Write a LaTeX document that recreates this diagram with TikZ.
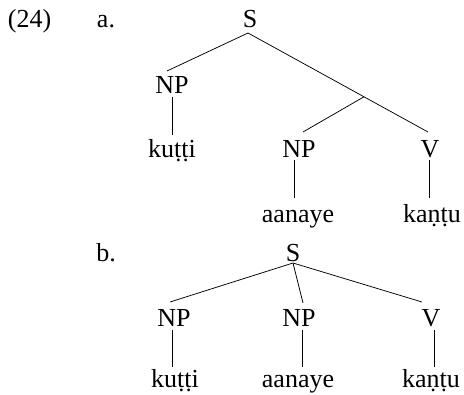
\documentclass[tikz,border=0pt]{standalone}
\usepackage{fontspec}
\setmainfont{Liberation Serif}
\begin{document}
\begin{tikzpicture}[x=1pt,y=-1pt,
  lbl/.style={anchor=base,inner sep=0pt,font=\fontsize{26}{31}\selectfont},
  edge/.style={line width=0.75pt,black}]
\useasboundingbox (0,0) rectangle (464,395);
% labels
\node[lbl] (num) at (29.5,28) {(24)};
\node[lbl] (la) at (106,28) {a.};
\node[lbl] (lb) at (106,262) {b.};
% tree a
\node[lbl] (Sa) at (250,28) {S};
\node[lbl] (NPa1) at (172,94) {NP};
\node[lbl] (kuA) at (172,158) {kuṭṭi};
\node[lbl] (NPa2) at (299,158) {NP};
\node[lbl] (Va) at (430,158) {V};
\node[lbl] (aanA) at (298,223) {aanaye};
\node[lbl] (kaA) at (432,223) {kaṇṭu};
\coordinate (br) at (364,96.8);
\draw[edge] ([xshift=-2pt,yshift=-5pt]Sa.base) -- ([xshift=-5pt,yshift=23pt]NPa1.base);
\draw[edge] ([xshift=-2pt,yshift=-5pt]Sa.base) -- (br) -- ([xshift=-2pt,yshift=26pt]Va.base);
\draw[edge] (br) -- ([xshift=4pt,yshift=26pt]NPa2.base);
\draw[edge] ([yshift=-3pt]NPa1.base) -- ([yshift=23pt]kuA.base);
\draw[edge] ([xshift=-5pt,yshift=-2pt]NPa2.base) -- ([xshift=-4pt,yshift=25pt]aanA.base);
\draw[edge] ([xshift=-1pt,yshift=-2pt]Va.base) -- ([xshift=-3pt,yshift=25pt]kaA.base);
% tree b
\node[lbl] (Sb) at (293,262) {S};
\node[lbl] (NPb1) at (174,327) {NP};
\node[lbl] (NPb2) at (299,327) {NP};
\node[lbl] (Vb) at (431,327) {V};
\node[lbl] (kuB) at (175,388) {kuṭṭi};
\node[lbl] (aanB) at (298,388) {aanaye};
\node[lbl] (kaB) at (431,388) {kaṇṭu};
\draw[edge] ([yshift=-1pt]Sb.base) -- ([xshift=-4pt,yshift=25pt]NPb1.base);
\draw[edge] ([yshift=-1pt]Sb.base) -- ([xshift=4pt,yshift=24pt]NPb2.base);
\draw[edge] ([yshift=-1pt]Sb.base) -- ([xshift=-9pt,yshift=25pt]Vb.base);
\draw[edge] ([xshift=-2pt,yshift=-3pt]NPb1.base) -- ([xshift=-3pt,yshift=21pt]kuB.base);
\draw[edge] ([xshift=3pt,yshift=-3pt]NPb2.base) -- ([xshift=4pt,yshift=21pt]aanB.base);
\draw[edge] ([xshift=3pt,yshift=-3pt]Vb.base) -- ([xshift=3pt,yshift=21pt]kaB.base);
\end{tikzpicture}
\end{document}
